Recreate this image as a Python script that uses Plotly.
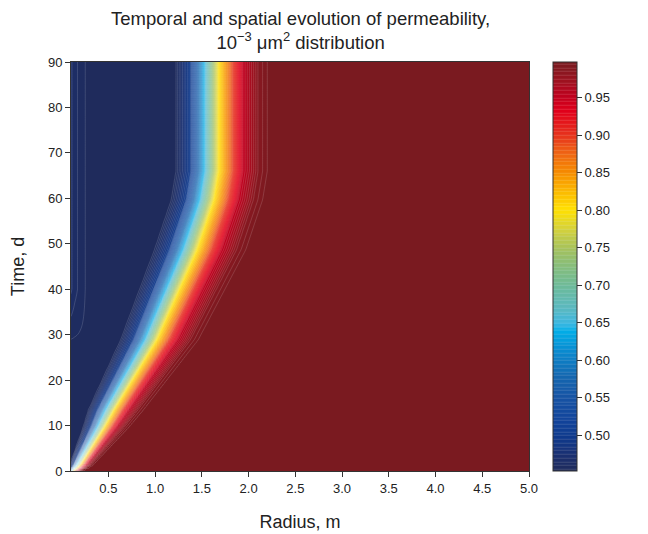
import numpy as np
import plotly.graph_objects as go

# position of the front (where k ~ 0.80)
time_pts = [0, 1.3, 9.7, 13.4, 28.9, 48.7, 59.7, 66, 90]
front_r = [0.13, 0.20, 0.46, 0.56, 1.02, 1.45, 1.63, 1.68, 1.68]
width_scale = [0.15, 0.25, 0.5, 0.6, 0.85, 1.0, 1.0, 1.0, 1.0]

# permeability across the front (offset from the 0.80 point, m)
prof_dr = [-0.46, -0.30, -0.21, -0.145, -0.07, 0.0, 0.08, 0.155, 0.26, 0.42, 0.53]
prof_k = [0.454, 0.50, 0.58, 0.65, 0.73, 0.80, 0.85, 0.90, 0.95, 0.985, 0.996]

# small rise next to the well at late times
well_r = [0.10, 0.14, 0.20, 0.27]
well_dk = [0.012, 0.008, 0.004, 0.0]
well_t = [0, 28, 40, 90]
well_on = [0, 0, 1, 1]

# colour bar
cs_levels = [0.454, 0.47, 0.485, 0.50, 0.52, 0.55, 0.58, 0.61, 0.64, 0.65, 0.67, 0.70,
             0.725, 0.75, 0.775, 0.80, 0.825, 0.85, 0.875, 0.90, 0.93, 0.95, 0.97, 0.985, 0.996]
cs_colors = ['#1f2b5c', '#1c2e6a', '#15337d', '#0f3a8c', '#11439a', '#1652a3', '#1467b0',
             '#0a86cc', '#00aee8', '#3cb7e0', '#5ab8c0', '#6dba98', '#85bd7c', '#a8c25a',
             '#d5d23a', '#ffe000', '#fbb800', '#f68b00', '#ef6512', '#e6301c', '#e2001a',
             '#c0001e', '#a0101f', '#861820', '#7a1a20']
cbar_ticks = [0.50, 0.55, 0.60, 0.65, 0.70, 0.75, 0.80, 0.85, 0.90, 0.95]
x_ticks = [0.5, 1.0, 1.5, 2.0, 2.5, 3.0, 3.5, 4.0, 4.5, 5.0]
y_ticks = [0, 10, 20, 30, 40, 50, 60, 70, 80, 90]

zmin, zmax = cs_levels[0], cs_levels[-1]

# grid for the contour
r = np.round(np.arange(0.1, 5.0001, 0.01), 3)
t = np.arange(0, 90.01, 0.5)
rc = np.interp(t, time_pts, front_r)
sc = np.interp(t, time_pts, width_scale)
dr = (r[None, :] - rc[:, None]) / sc[:, None]
k = np.interp(dr, prof_dr, prof_k)
k = k + np.interp(t, well_t, well_on)[:, None] * np.interp(r, well_r, well_dk)[None, :]

colorscale = [[(v - zmin) / (zmax - zmin), c] for v, c in zip(cs_levels, cs_colors)]

fig = go.Figure(go.Contour(
    x=r, y=t, z=k,
    zmin=zmin, zmax=zmax,
    colorscale=colorscale,
    autocontour=False,
    contours=dict(start=0.455, end=0.995, size=0.005, coloring='fill'),
    line=dict(width=0.5, color='rgba(255,255,255,0.3)'),
    colorbar=dict(
        x=1.052, xanchor='left', xpad=0,
        y=0.5, yanchor='middle', ypad=0,
        len=1, lenmode='fraction', thickness=24,
        outlinewidth=1, outlinecolor='#333',
        tickvals=cbar_ticks, tickformat='.2f',
        ticks='outside', ticklen=5, tickcolor='#333',
        tickfont=dict(size=13, color='#222'),
    ),
))

# page body adds 8 px on top/left, so the figure is 8 px smaller
fig.update_layout(
    width=640, height=526,
    margin=dict(l=63, r=119, t=54, b=63, autoexpand=False),
    paper_bgcolor='white', plot_bgcolor='white',
    font=dict(family='Liberation Sans, Arial, sans-serif', color='#222'),
)
# two-line title as an annotation (layout.title misplaces multi-line text)
fig.add_annotation(
    text='Temporal and spatial evolution of permeability,<br>10<sup>−3</sup> μm<sup>2</sup> distribution',
    x=0.5, xref='paper', xanchor='center',
    y=1, yref='paper', yanchor='bottom', yshift=7,
    showarrow=False, font=dict(size=18.5, color='#222'),
)
fig.update_xaxes(
    range=[0.1, 5.0], tickvals=x_ticks, tickformat='.1f',
    ticks='outside', ticklen=5, tickcolor='#333',
    showline=True, linecolor='#333', linewidth=1, mirror=True,
    showgrid=False, zeroline=False, tickfont=dict(size=13), automargin=False,
    title=dict(text='Radius, m', font=dict(size=18), standoff=20),
)
fig.update_yaxes(
    range=[0, 90], tickvals=y_ticks,
    ticks='outside', ticklen=5, tickcolor='#333',
    showline=True, linecolor='#333', linewidth=1, mirror=True,
    showgrid=False, zeroline=False, tickfont=dict(size=13), automargin=False,
    title=dict(text='Time, d', font=dict(size=18), standoff=21),
)

fig.write_html("out.html")
